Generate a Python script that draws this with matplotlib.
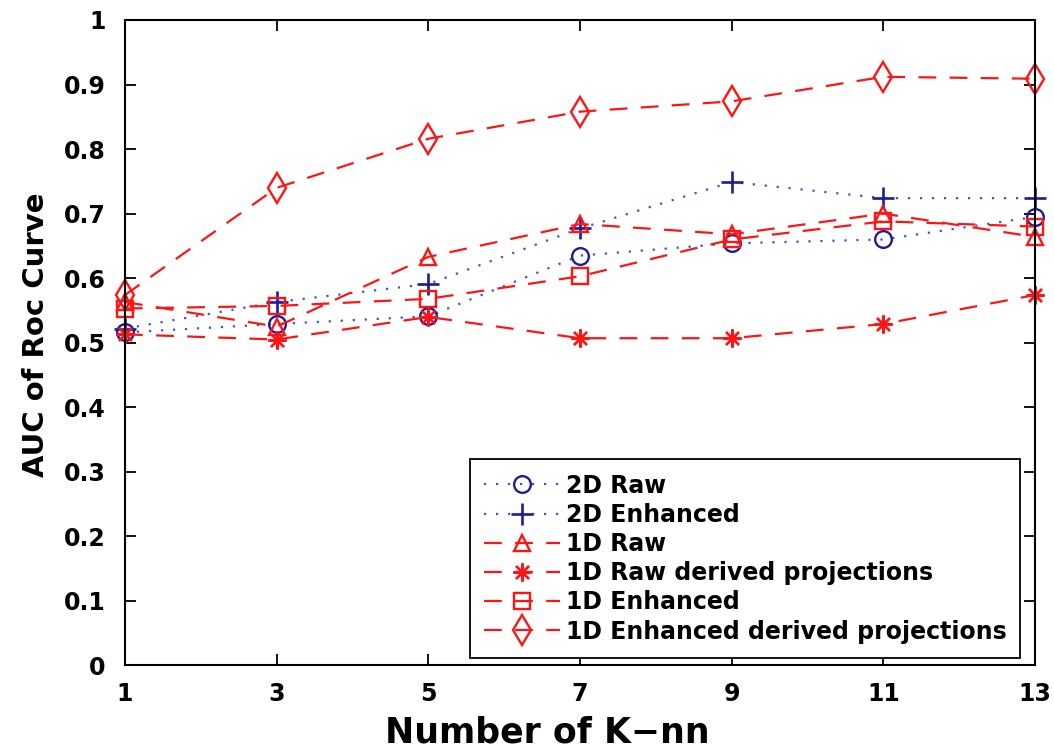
import matplotlib
matplotlib.use("Agg")
import matplotlib.pyplot as plt

plt.rcParams['font.family'] = ['DejaVu Sans']
plt.rcParams['font.weight'] = 'bold'

k_values = [1, 3, 5, 7, 9, 11, 13]
raw_2d = [0.516, 0.529, 0.541, 0.635, 0.654, 0.660, 0.695]
enh_2d = [0.522, 0.563, 0.591, 0.677, 0.749, 0.724, 0.724]
raw_1d = [0.563, 0.525, 0.633, 0.684, 0.668, 0.700, 0.664]
raw_1d_proj = [0.513, 0.505, 0.540, 0.507, 0.507, 0.529, 0.574]
enh_1d = [0.553, 0.557, 0.568, 0.603, 0.660, 0.688, 0.680]
enh_1d_proj = [0.574, 0.740, 0.816, 0.858, 0.874, 0.912, 0.909]
labels = ['2D Raw', '2D Enhanced', '1D Raw', '1D Raw derived projections',
          '1D Enhanced', '1D Enhanced derived projections']
y_ticks = [0, 0.1, 0.2, 0.3, 0.4, 0.5, 0.6, 0.7, 0.8, 0.9, 1]
y_ticklabels = ['0', '0.1', '0.2', '0.3', '0.4', '0.5', '0.6', '0.7', '0.8', '0.9', '1']

blue_mk = '#1c1c9c'
blue_ln = '#4652c4'
red = '#ff1414'

fig = plt.figure(figsize=(10.54, 7.49), dpi=100)
ax = fig.add_axes([0.1186, 0.1115, 0.8634, 0.8618])

dot = (0, (1, 4.4))
dash = (0, (8, 6))
common = dict(lw=1.6, clip_on=False)
ax.plot(k_values, raw_2d, linestyle=dot, color=blue_ln, marker='o', ms=12,
        mfc='none', mec=blue_mk, mew=1.7, label=labels[0], **common)
ax.plot(k_values, enh_2d, linestyle=dot, color=blue_ln, marker='+', ms=16,
        mec=blue_mk, mew=1.9, label=labels[1], **common)
ax.plot(k_values, raw_1d, linestyle=dash, color=red, marker='^', ms=12,
        mfc='none', mec=red, mew=1.7, label=labels[2], **common)
ax.plot(k_values, raw_1d_proj, linestyle=dash, color=red, marker=(8, 2, 0), ms=13,
        mfc=red, mec=red, mew=1.7, label=labels[3], **common)
ax.plot(k_values, enh_1d, linestyle=dash, color=red, marker='s', ms=11,
        mfc='none', mec=red, mew=1.7, label=labels[4], **common)
ax.plot(k_values, enh_1d_proj, linestyle=dash, color=red, marker='d', ms=15,
        mfc='none', mec=red, mew=1.7, label=labels[5], **common)

ax.set_xlim(1, 13)
ax.set_ylim(0, 1)
ax.set_xticks(k_values)
ax.set_xticklabels([str(k) for k in k_values])
ax.set_yticks(y_ticks)
ax.set_yticklabels(y_ticklabels)
ax.tick_params(direction='in', length=8, width=1.3, top=True, right=True,
               labelsize=17)
ax.tick_params(axis='x', pad=12)
ax.tick_params(axis='y', pad=14)
for lab in ax.get_xticklabels() + ax.get_yticklabels():
    lab.set_fontweight('bold')
for s in ax.spines.values():
    s.set_linewidth(1.5)

ax.set_xlabel('Number of K\u2212nn', fontsize=25, fontweight='bold')
ax.xaxis.set_label_coords(0.4637, -0.078)
ax.set_ylabel('AUC of Roc Curve', fontsize=21, fontweight='bold')
ax.yaxis.set_label_coords(-0.082, 0.512)

leg = ax.legend(loc='lower right', bbox_to_anchor=(0.984, 0.012),
                frameon=True, fancybox=False, edgecolor='black', framealpha=1,
                handlelength=3.2, labelspacing=0.22, borderpad=0.6, handletextpad=0.25,
                borderaxespad=0, prop={'weight': 'bold', 'size': 17})
leg.get_frame().set_linewidth(1.3)

fig.savefig('out.png', dpi=100)
